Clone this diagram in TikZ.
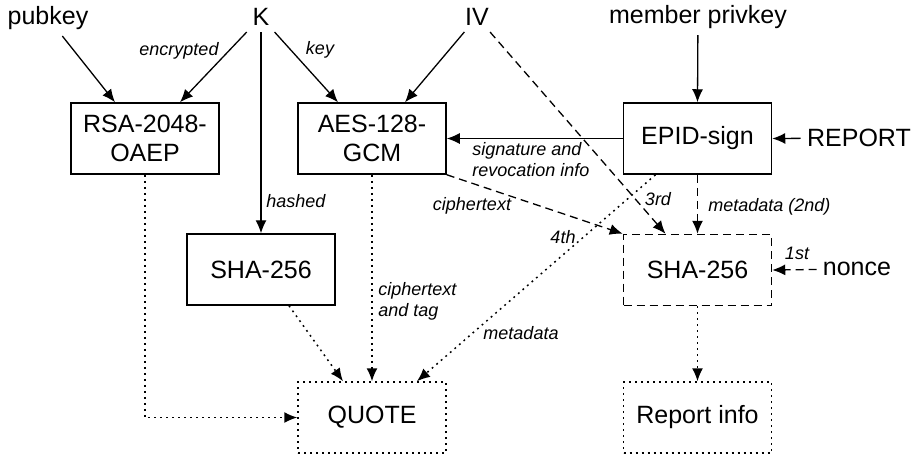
\documentclass[tikz,border=0pt]{standalone}
\usepackage{fontspec}
\setmainfont{Liberation Sans}
\usetikzlibrary{arrows.meta}

\begin{document}
\begin{tikzpicture}[x=0.5pt,y=-0.5pt,
  >={Latex[length=6.5pt,width=5.5pt]},
  every node/.style={font=\fontsize{12.5}{14.5}\selectfont},
  block/.style={shape=rectangle, draw, line width=0.75pt, align=center,
    minimum width=74pt, minimum height=35.5pt, inner sep=0pt},
  dashblock/.style={block, dash pattern=on 4pt off 2.5pt},
  dotblock/.style={block, dash pattern=on 1pt off 2pt},
  input/.style={inner sep=3pt},
  lbl/.style={font=\fontsize{9}{10.5}\selectfont\itshape, inner sep=0pt, align=left},
  flow/.style={->, line width=0.65pt},
  dashflow/.style={flow, dash pattern=on 4pt off 2.5pt},
  dotflow/.style={flow, line width=0.75pt, dash pattern=on 0.9pt off 2.1pt}]

  \useasboundingbox (0,0) rectangle (912,457);

  % inputs
  \node[input] (pubkey)  at (48,18)   {pubkey};
  \node[input] (K)       at (261,17)  {K};
  \node[input] (IV)      at (477,17)  {IV};
  \node[input] (privkey) at (698,17)  {member privkey};
  \node[input] (report)  at (859,138) {REPORT};
  \node[input] (nonce)   at (857,269) {nonce};

  % blocks
  \node[block]     (rsa)   at (145,138.5)   {RSA-2048-\\OAEP};
  \node[block]     (aes)   at (372,138.5)   {AES-128-\\GCM};
  \node[block]     (epid)  at (697.5,138.5) {EPID-sign};
  \node[block]     (sha1)  at (261,269.5)   {SHA-256};
  \node[dashblock] (sha2)  at (697.5,270)   {SHA-256};
  \node[dotblock]  (quote) at (372,417.5)   {QUOTE};
  \node[dotblock]  (info)  at (697.5,417.5) {Report info};

  % solid connectors
  \draw[flow] (pubkey) -- ([xshift=-15pt]rsa.north);
  \draw[flow] (K) -- ([xshift=17.5pt]rsa.north);
  \draw[flow] (K) -- ([xshift=-17pt]aes.north);
  \draw[flow] (K) -- (K |- sha1.north);
  \draw[flow] (IV) -- ([xshift=16.5pt]aes.north);
  \draw[flow] (privkey) -- (epid.north);
  \draw[flow] (report) -- (epid.east);
  \draw[flow] (epid.west) -- (aes.east);

  % dashed connectors
  \draw[dashflow] (IV) -- ([xshift=-16pt]sha2.north);
  \draw[dashflow] (aes.south east) -- (sha2.north west);
  \draw[dashflow] (epid.south) -- (sha2.north);
  \draw[dashflow] (nonce) -- (sha2.east);

  % dotted connectors
  \draw[dotflow] (rsa.south) |- (quote.west);
  \draw[dotflow] ([xshift=14pt]sha1.south) -- ([xshift=-14.5pt]quote.north);
  \draw[dotflow] (aes.south) -- (quote.north);
  \draw[dotflow] ([xshift=-21pt]epid.south) -- ([xshift=22.5pt]quote.north);
  \draw[dotflow] (sha2.south) -- (info.north);

  % labels
  \node[lbl] (lenc)  at (179,51)  {encrypted};
  \node[lbl] (lkey)  at (320,50)  {key};
  \node[lbl, anchor=west] (lhash) at (266,201) {hashed};
  \node[lbl, anchor=west] (lsig)  at (472,160) {signature and\\revocation info};
  \node[lbl] (lcip)  at (472,206) {ciphertext};
  \node[lbl] (l3rd)  at (658,199) {3rd};
  \node[lbl, anchor=west] (lmeta2) at (708,207) {metadata (2nd)};
  \node[lbl] (l4th)  at (563,237) {4th};
  \node[lbl] (lmeta) at (521,333) {metadata};
  \node[lbl, anchor=west] (ltag) at (378,301) {ciphertext\\and tag};
  \node[lbl] (l1st)  at (797,253) {1st};
\end{tikzpicture}
\end{document}
